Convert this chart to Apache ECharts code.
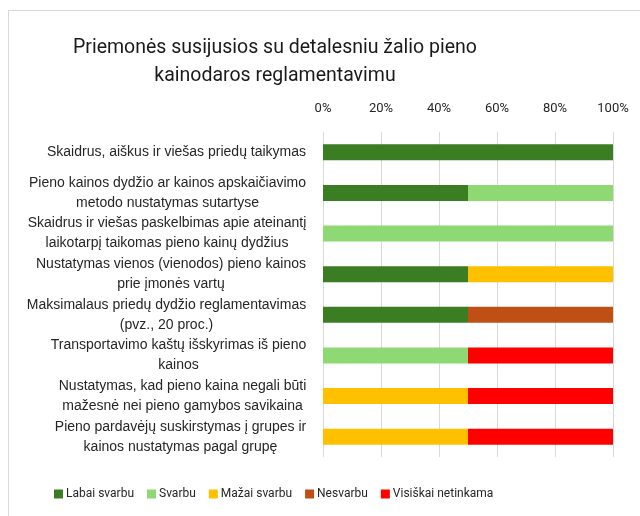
<!DOCTYPE html>
<html><head><meta charset="utf-8">
<script src="https://cdn.jsdelivr.net/npm/echarts@6/dist/echarts.min.js"></script>
<style>
html,body{margin:0;padding:0;background:#fff;}
#frame{position:absolute;left:8px;top:10px;width:700px;height:600px;border-left:1px solid #d9d9d9;border-top:1px solid #d9d9d9;}
#c{position:absolute;left:0;top:0;width:640px;height:516px;}
</style></head>
<body><div id="frame"></div><div id="c"></div>
<script>
const categories = [
  "Skaidrus, aiškus ir viešas priedų taikymas",
  "Pieno kainos dydžio ar kainos apskaičiavimo\nmetodo nustatymas sutartyse",
  "Skaidrus ir viešas paskelbimas apie ateinantį\nlaikotarpį taikomas pieno kainų dydžius",
  "Nustatymas vienos (vienodos) pieno kainos\nprie įmonės vartų",
  "Maksimalaus priedų dydžio reglamentavimas\n(pvz., 20 proc.)",
  "Transportavimo kaštų išskyrimas iš pieno\nkainos",
  "Nustatymas, kad pieno kaina negali būti\nmažesnė nei pieno gamybos savikaina",
  "Pieno pardavėjų suskirstymas į grupes ir\nkainos nustatymas pagal grupę"
];
const seriesNames = ["Labai svarbu","Svarbu","Mažai svarbu","Nesvarbu","Visiškai netinkama"];
const labaiSvarbu     = [100, 50,   0, 50, 50,  0,  0,  0];
const svarbu          = [  0, 50, 100,  0,  0, 50,  0,  0];
const mazaiSvarbu     = [  0,  0,   0, 50,  0,  0, 50, 50];
const nesvarbu        = [  0,  0,   0,  0, 50,  0,  0,  0];
const visiskaiNetinka = [  0,  0,   0,  0,  0, 50, 50, 50];
const xTicks = [0,20,40,60,80,100];

const colors = ["#3B7D23","#8ED973","#FFC000","#C04F15","#FF0000"];
const labelFamily = "'Liberation Sans', Arial, sans-serif";
const narrow = "Roboto, 'Liberation Sans', sans-serif";

// per-label rich styles so lines are centered within a right-aligned block
const cv = document.createElement('canvas').getContext('2d');
cv.font = "14px " + labelFamily;
const rich = {};
categories.forEach((c,i)=>{
  const w = Math.max(...c.split('\n').map(s=>cv.measureText(s).width));
  rich['t'+i] = {width: Math.ceil(w)+1, align:'center', fontSize:14, fontFamily:labelFamily, color:'#262626', lineHeight:20};
});

const chart = echarts.init(document.getElementById('c'));
const data = [labaiSvarbu, svarbu, mazaiSvarbu, nesvarbu, visiskaiNetinka];
chart.setOption({
  animation:false,
  title:{
    text:"Priemonės susijusios su detalesniu žalio pieno\nkainodaros reglamentavimu",
    left:270, top:29, textAlign:'center',
    textStyle:{fontFamily:narrow, fontSize:19.5, fontWeight:'normal', color:'#1a1a1a', lineHeight:28}
  },
  legend:{
    data:seriesNames, left:49, top:483, itemWidth:9, itemHeight:9, itemGap:13,
    icon:'rect',
    textStyle:{fontFamily:narrow, fontSize:12, color:'#262626', padding:[0,0,0,-2]}
  },
  grid:{left:323, right:27, top:132, bottom:59},
  xAxis:{
    type:'value', position:'top', min:0, max:100, interval:20,
    axisLabel:{formatter:v=>v+'%', margin:17, fontFamily:narrow, fontSize:13, color:'#262626'},
    splitLine:{lineStyle:{color:'#d9d9d9', width:1}},
    axisLine:{show:false}, axisTick:{show:false}
  },
  yAxis:{
    type:'category', data:categories, inverse:true,
    axisLine:{show:false}, axisTick:{show:false},
    axisLabel:{
      margin:16,
      formatter:(v,i)=>v.split('\n').map(s=>'{t'+i+'|'+s+'}').join('\n'),
      rich:rich
    }
  },
  series: seriesNames.map((n,k)=>({
    name:n, type:'bar', stack:'total', data:data[k], barWidth:16,
    itemStyle:{color:colors[k]}
  }))
});
</script></body></html>
